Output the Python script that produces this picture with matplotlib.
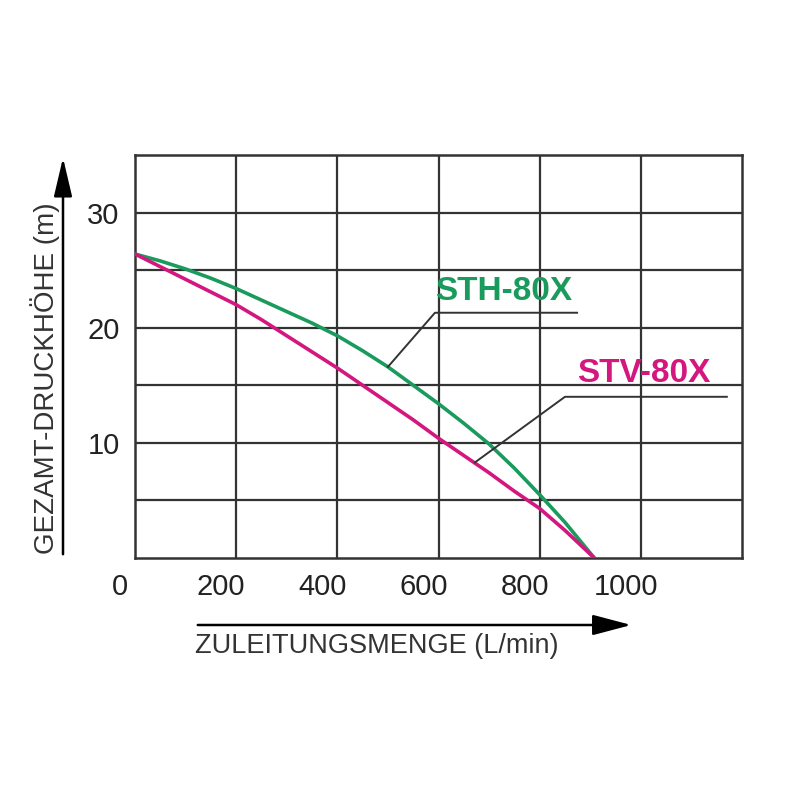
import matplotlib
matplotlib.use("Agg")
import matplotlib.pyplot as plt
import matplotlib.transforms as mtransforms
from matplotlib.patches import FancyArrowPatch

plt.rcParams['font.family'] = ['Liberation Sans', 'DejaVu Sans']

# Data
flow_sth = [0, 50, 100, 150, 200, 250, 300, 350, 400, 450, 500, 550, 600,
            650, 700, 750, 800, 850, 908]
head_sth = [26.4, 25.8, 25.1, 24.3, 23.4, 22.4, 21.4, 20.4, 19.3, 18.0, 16.6,
            15.0, 13.4, 11.7, 9.9, 7.8, 5.5, 3.1, 0.0]
flow_stv = [0, 50, 100, 150, 200, 250, 300, 350, 400, 450, 500, 550, 600,
            650, 700, 750, 800, 850, 908]
head_stv = [26.4, 25.3, 24.2, 23.1, 22.0, 20.7, 19.3, 17.9, 16.5, 15.0, 13.5,
            12.0, 10.4, 8.9, 7.4, 5.8, 4.3, 2.4, 0.0]
x_ticks = [0, 200, 400, 600, 800, 1000]
x_tick_labels = ['0', '200', '400', '600', '800', '1000']
y_ticks = [10, 20, 30]
y_tick_labels = ['10', '20', '30']
x_label = 'ZULEITUNGSMENGE (L/min)'
y_label = 'GEZAMT-DRUCKHÖHE (m)'
series_names = ['STH-80X', 'STV-80X']

GREEN = '#1a9a5c'
MAGENTA = '#d4177f'
GRID = '#333333'

fig = plt.figure(figsize=(8, 8), dpi=100)
ax = fig.add_axes([135/800, 1-558/800, 607/800, 403/800])
ax.set_xlim(0, 1200)
ax.set_ylim(0, 35)

for x in range(200, 1200, 200):
    ax.axvline(x, color=GRID, lw=1.6, zorder=1)
for y in range(5, 35, 5):
    ax.axhline(y, color=GRID, lw=1.6, zorder=1)
for s in ax.spines.values():
    s.set_color(GRID)
    s.set_linewidth(1.8)

ax.plot(flow_sth, head_sth, color=GREEN, lw=2.6, zorder=3, solid_joinstyle='round')
ax.plot(flow_stv, head_stv, color=MAGENTA, lw=2.6, zorder=3, solid_joinstyle='round')

ax.set_xticks(x_ticks)
ax.set_xticklabels(x_tick_labels, fontsize=21, color='#222222')
ax.set_yticks(y_ticks)
ax.set_yticklabels(y_tick_labels, fontsize=21, color='#222222')
ax.tick_params(axis='both', length=0)
ax.tick_params(axis='x', pad=11)
ax.tick_params(axis='y', pad=11)
off = mtransforms.ScaledTranslation(-15/100, 0, fig.dpi_scale_trans)
for lab in ax.get_xticklabels():
    lab.set_transform(lab.get_transform() + off)

# Series labels with leader lines
ax.text(593, 21.8, series_names[0], color=GREEN, fontsize=24, fontweight='bold',
        ha='left', va='bottom', zorder=5)
ax.plot([874, 593, 500], [21.3, 21.3, 16.6], color='#333333', lw=1.4, zorder=4)
ax.text(874, 14.7, series_names[1], color=MAGENTA, fontsize=24, fontweight='bold',
        ha='left', va='bottom', zorder=5)
ax.plot([1170, 850, 672], [14.0, 14.0, 8.3], color='#333333', lw=1.4, zorder=4)

# Axis arrows and labels (figure coordinates)
def fx(px):
    return px / 800
def fy(py):
    return 1 - py / 800

fig.patches.append(FancyArrowPatch((fx(63), fy(557)), (fx(63), fy(155)),
                                   transform=fig.transFigure, arrowstyle='-|>,head_length=1.7,head_width=0.4',
                                   mutation_scale=14, color='black', lw=1.8))
fig.patches.append(FancyArrowPatch((fx(195), fy(625)), (fx(634), fy(625)),
                                   transform=fig.transFigure, arrowstyle='-|>,head_length=1.7,head_width=0.45',
                                   mutation_scale=14, color='black', lw=1.8))
fig.text(fx(45), fy(378), y_label, rotation=90, ha='center', va='center',
         fontsize=20, color='#333333')
fig.text(fx(377), fy(646), x_label, ha='center', va='center',
         fontsize=19.5, color='#333333')

fig.savefig('out.png', dpi=100, facecolor='white')
